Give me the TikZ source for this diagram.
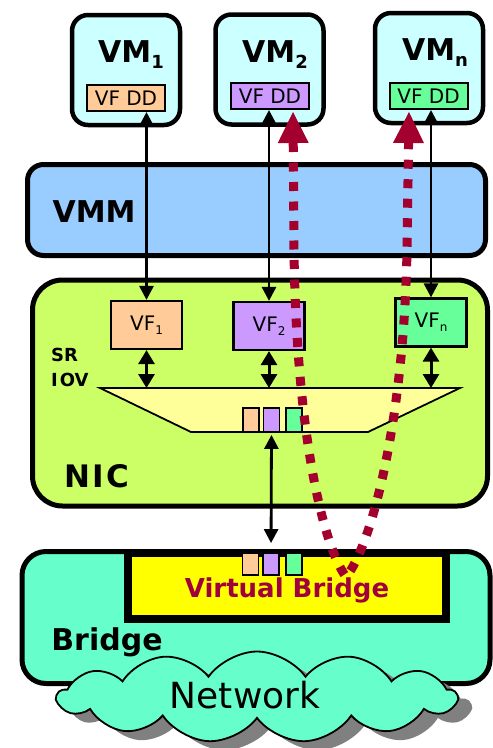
\documentclass[tikz,border=0pt]{standalone}
\usepackage{fontspec}
\setmainfont{DejaVu Sans}
\usetikzlibrary{arrows.meta,calc,positioning,shapes.symbols,shadows}
\definecolor{vmcian}{HTML}{CCFFFF}
\definecolor{naranja}{HTML}{FFCC99}
\definecolor{lila}{HTML}{CC99FF}
\definecolor{verde}{HTML}{66FF99}
\definecolor{vmmazul}{HTML}{99CCFF}
\definecolor{nicverde}{HTML}{CCFF66}
\definecolor{trapamar}{HTML}{FFFF99}
\definecolor{puente}{HTML}{66FFCC}
\definecolor{vbamar}{HTML}{FFFF00}
\definecolor{granate}{HTML}{A3002E}
\definecolor{granatetxt}{HTML}{A0003C}
\newcommand{\idx}[1]{\raisebox{-0.22em}{\scalebox{0.6}{#1}}}
\tikzset{
  cajavm/.style={draw=black,fill=vmcian,line width=4.5pt,rounded corners=16pt,minimum width=108pt,minimum height=110pt,inner sep=0pt},
  cajadd/.style={draw=black,line width=2pt,minimum width=78pt,minimum height=26pt,inner sep=0pt,font=\fontsize{20}{20}\selectfont},
  cajavf/.style={draw=black,line width=2.2pt,minimum width=71pt,minimum height=48pt,inner sep=0pt,font=\fontsize{20}{20}\selectfont},
  capa/.style={draw=black,line width=5pt,inner sep=0pt},
  cola/.style={draw=black,line width=1.8pt,minimum width=16pt,minimum height=23pt,inner sep=0pt},
  titulo/.style={font=\fontsize{30}{30}\selectfont\bfseries,anchor=base,inner sep=0pt},
  flecha/.style={draw=black,line width=2.8pt,>={Triangle[length=14pt,width=14pt]},<->},
  flechacorta/.style={draw=black,line width=3pt,>={Triangle[length=14pt,width=16pt]},<->},
  lazo/.style={draw=granate,line width=9pt,dash pattern=on 9pt off 10.5pt,>={Triangle[length=31pt,width=31pt,line width=0pt]},<->},
}
\begin{document}
\begin{tikzpicture}[x=1pt,y=-1pt]
\useasboundingbox (0,0) rectangle (493,748);
% capas de fondo
\node[capa,fill=vmmazul,rounded corners=16pt,minimum width=458pt,minimum height=91pt] (vmm) at (256.5,210) {};
\node[capa,fill=nicverde,rounded corners=30pt,minimum width=455pt,minimum height=226pt] (nic) at (260,393) {};
\node[capa,fill=puente,rounded corners=24pt,minimum width=468pt,minimum height=132pt] (bridge) at (256,617.5) {};
\node[draw=black,fill=vbamar,line width=8pt,minimum width=318pt,minimum height=66pt,inner sep=0pt] (vbridge) at (287,586) {};
\node[titulo] (tvmm) at (94,222) {VMM};
\node[titulo,font=\fontsize{31}{31}\selectfont\bfseries] (tnic) at (97,487) {N\kern2pt I\kern2pt C};
\node[titulo] (tbridge) at (107,650) {Bridge};
\node[titulo,font=\fontsize{26}{26}\selectfont\bfseries,text=granatetxt] (tvb) at (287,597) {Virtual Bridge};
% maquinas virtuales
\node[cajavm] (vm1) at (126,70) {};
\node[cajavm] (vm2) at (269.5,69.5) {};
\node[cajavm] (vmn) at (429,68) {};
\node[titulo] (tvm1) at (131,62) {VM\idx{1}};
\node[titulo] (tvm2) at (275,62) {VM\idx{2}};
\node[titulo] (tvmn) at (435,60) {VM\idx{n}};
\node[cajadd,fill=naranja] (dd1) at (126,98) {VF DD};
\node[cajadd,fill=lila] (dd2) at (270,96) {VF DD};
\node[cajadd,fill=verde] (ddn) at (428.5,96) {VF DD};
% funciones virtuales
\node[cajavf,fill=naranja] (vf1) at (146.5,325) {VF\idx{1}};
\node[cajavf,fill=lila] (vf2) at (269,326) {VF\idx{2}};
\node[cajavf,fill=verde] (vfn) at (431,322.5) {VF\idx{n}};
\node[anchor=base west,inner sep=0pt,font=\fontsize{18}{18}\selectfont\bfseries] (tsr) at (51,361) {SR};
\node[anchor=base west,inner sep=0pt,font=\fontsize{18}{18}\selectfont\bfseries] (tiov) at (51,386) {I\kern2pt OV};
\coordinate (tza) at (100,388);
\coordinate (tzb) at (460,388);
\coordinate (tzc) at (368,432);
\coordinate (tzd) at (191,432);
\draw[line width=1.8pt,fill=trapamar] (tza) -- (tzb) -- (tzc) -- (tzd) -- cycle;
\node[cola,fill=naranja,minimum height=24pt] (nicna) at (251,420) {};
\node[cola,fill=lila,minimum height=24pt] (niclu) at (271.5,420) {};
\node[cola,fill=verde,minimum height=24pt] (nicve) at (294,420) {};
\node[cola,fill=naranja,minimum height=22pt] (brna) at (250.5,564) {};
\node[cola,fill=lila,minimum height=22pt] (brlu) at (271,564) {};
\node[cola,fill=verde,minimum height=22pt] (brve) at (294,564) {};
% conexiones
\draw[flecha] (vf1.north |- dd1.south) -- (vf1.north);
\draw[flecha] (vf2.north |- dd2.south) -- (vf2.north);
\draw[flecha] (vfn.north |- ddn.south) -- (vfn.north);
\draw[flechacorta] (vf1.south) -- (vf1.south |- tza);
\draw[flechacorta] (vf2.south) -- (vf2.south |- tza);
\draw[flechacorta] (vfn.south) -- (vfn.south |- tza);
\draw[flecha,shorten >=9pt,shorten <=2pt] (niclu.south) -- (brlu.north);
% red
\node[cloud,cloud puffs=13,cloud puff arc=110,aspect=4.4,minimum width=399pt,minimum height=91pt,inner sep=0pt,draw=black,line width=1.8pt,fill=puente,drop shadow={shadow xshift=14pt,shadow yshift=-9pt,fill=black!50,opacity=1}] (net) at (257,697) {};
\node[anchor=base,inner sep=0pt,font=\fontsize{36}{36}\selectfont] (tnet) at (245,708) {Network};
% camino por el puente virtual
\coordinate (ida) at (293,112);
\coordinate (vuelta) at (409,112);
\draw[lazo] (ida) -- (294,250) .. controls (296,420) and (320,540) .. (346,577) .. controls (372,545) and (404,420) .. (407,250) -- (vuelta);
\end{tikzpicture}
\end{document}
